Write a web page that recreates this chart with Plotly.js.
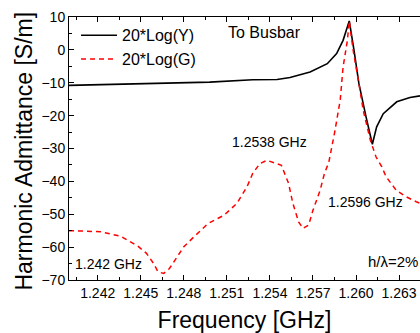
<!DOCTYPE html>
<html><head><meta charset="utf-8">
<script src="https://cdn.plot.ly/plotly-3.0.1.min.js"></script>
<style>html,body{margin:0;padding:0;background:#fff}#c{width:420px;height:333px}</style>
</head><body><div id="c"></div>
<script>
var freqY = [1.2400,1.2420,1.2440,1.2460,1.2480,1.2498,1.2528,1.2545,1.2554,1.2568,1.2580,1.25865,1.2591,1.25953,1.25986,1.2602,1.2607,1.26114,1.26144,1.2619,1.26284,1.26376,1.26446];
var valY  = [-10.8,-10.6,-10.4,-10.2,-10.0,-9.8,-9.1,-9.0,-8.4,-6.7,-4.2,-1.1,2.9,8.8,-0.1,-10.2,-20.4,-28.7,-23.4,-19.4,-15.8,-14.5,-14.0];

var freqG = [1.2400,1.2422,1.2436,1.2441,1.2448,1.2454,1.2459,1.2462,1.2466,1.2470,1.2475,1.2480,1.2487,1.2497,1.2508,1.2517,1.2524,1.2528,1.2533,1.2538,1.2548,1.2553,1.2556,1.2560,1.2563,1.2567,1.2570,1.2575,1.2578,1.2581,1.2585,1.2589,1.2591,1.2594,1.25953,1.2598,1.2602,1.2605,1.2610,1.2614,1.2618,1.2621,1.2628,1.2635,1.2642,1.2645];
var valG  = [-55.0,-55.3,-56.7,-57.9,-59.7,-61.9,-65.0,-67.5,-68.0,-66.5,-63.0,-59.9,-56.9,-52.8,-50.3,-46.7,-41.7,-37.6,-34.6,-33.6,-35.1,-40.6,-46.7,-52.3,-54.3,-53.3,-48.8,-42.7,-37.6,-34.3,-25.4,-15.3,-5.2,2.9,8.8,-0.1,-10.2,-18.3,-27.5,-32.6,-35.6,-38.6,-42.7,-44.7,-46.2,-46.7];

var seriesNames = ['20*Log(Y)','20*Log(G)'];
var xTicks = [1.242,1.245,1.248,1.251,1.254,1.257,1.260,1.263];
var xTickText = ['1.242','1.245','1.248','1.251','1.254','1.257','1.260','1.263'];
var yTicks = [10,0,-10,-20,-30,-40,-50,-60,-70];

var F = 'Arial, "Liberation Sans", sans-serif';
var traces = [
  {x:freqY, y:valY, name:seriesNames[0], mode:'lines', line:{color:'#000000', width:1.6}},
  {x:freqG, y:valG, name:seriesNames[1], mode:'lines', line:{color:'#ff0000', width:1.5, dash:'5px,4px'}}
];
var layout = {
  width:420, height:333,
  margin:{l:69, r:0, t:17, b:53},
  paper_bgcolor:'#fff', plot_bgcolor:'#fff',
  showlegend:true,
  legend:{x:0.02, y:0.995, xanchor:'left', yanchor:'top', itemwidth:36, bgcolor:'rgba(0,0,0,0)', font:{family:F, size:16, color:'#000'}, tracegroupgap:0},
  xaxis:{range:[1.240,1.26446], tickvals:xTicks, ticktext:xTickText, ticks:'inside', ticklen:5, tickwidth:1, tickcolor:'#000',
    showline:true, linecolor:'#000', linewidth:1, mirror:'ticks', showgrid:false, zeroline:false,
    minor:{tick0:1.2405, dtick:0.0015, ticks:'inside', ticklen:3, tickcolor:'#000', showgrid:false},
    tickfont:{family:F, size:14, color:'#000'},
    title:{text:'Frequency [GHz]', font:{family:F, size:23, color:'#000'}, standoff:12}},
  yaxis:{range:[-70,10], tickvals:yTicks, ticks:'inside', ticklen:5, tickwidth:1, tickcolor:'#000',
    showline:true, linecolor:'#000', linewidth:1, showgrid:false, zeroline:false,
    minor:{dtick:5, ticks:'inside', ticklen:3, tickcolor:'#000', showgrid:false},
    tickfont:{family:F, size:14, color:'#000'}},
  annotations:[
    {x:-0.127, y:0.49, xref:'paper', yref:'paper', xanchor:'center', yanchor:'middle', textangle:-90, text:'Harmonic Admittance [S/m]', showarrow:false, font:{family:F, size:23, color:'#000'}},
    {x:1.25359, y:5.35, xref:'x', yref:'y', text:'To Busbar', showarrow:false, font:{family:F, size:16, color:'#000'}},
    {x:1.25399, y:-28.0, xref:'x', yref:'y', text:'1.2538 GHz', showarrow:false, font:{family:F, size:14, color:'#000'}},
    {x:1.26066, y:-46.2, xref:'x', yref:'y', text:'1.2596 GHz', showarrow:false, font:{family:F, size:14, color:'#000'}},
    {x:1.24026, y:-65.0, xref:'x', yref:'y', xanchor:'left', text:'1.242 GHz', showarrow:false, font:{family:F, size:14, color:'#000'}},
    {x:0.999, y:-64.3, xref:'paper', yref:'y', xanchor:'right', text:'h/λ=2%', showarrow:false, font:{family:F, size:15, color:'#000'}}
  ]
};
Plotly.newPlot('c', traces, layout, {displayModeBar:false, staticPlot:true});
</script></body></html>
